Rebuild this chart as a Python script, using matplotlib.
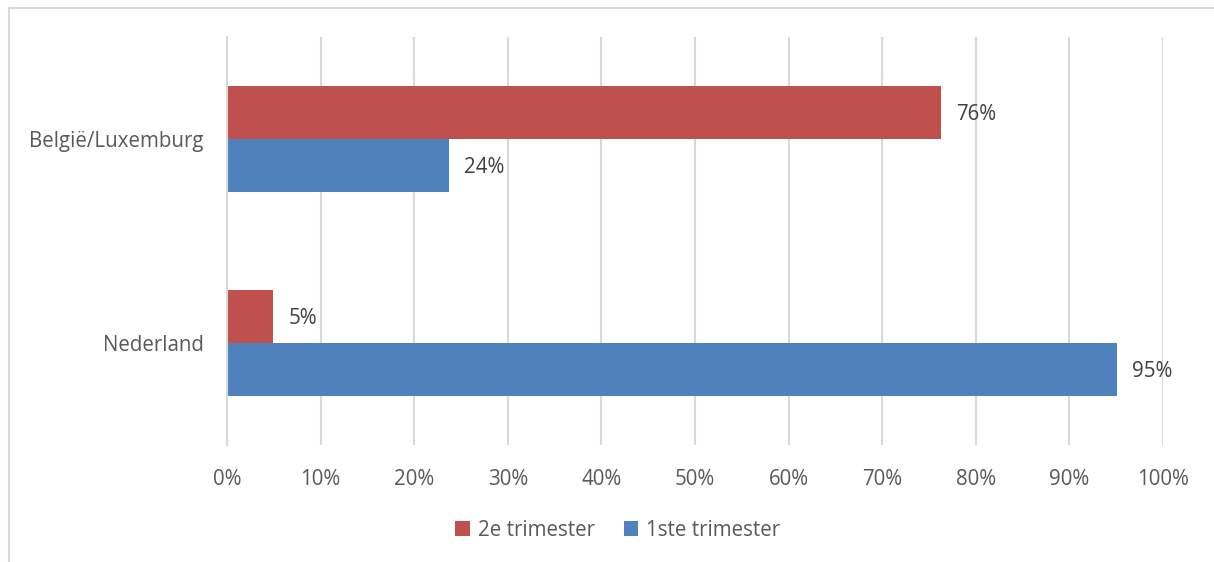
import numpy as np
import matplotlib.pyplot as plt
from matplotlib.lines import Line2D

# data
categories = ["Nederland", "België/Luxemburg"]
series_names = ["2e trimester", "1ste trimester"]
trim2 = [0.049, 0.763]
trim1 = [0.951, 0.237]
colors = ["#C0504D", "#4F81BD"]

plt.rcParams['font.family'] = ['Open Sans', 'DejaVu Sans']
text_col = "#595959"
fs = 14.8

fig = plt.figure(figsize=(12.14, 5.62), dpi=100)
ax = fig.add_axes([227/1214, 117/562, 936/1214, 408/562])

# outer chart border (only left/top visible)
x0, y0 = 9/1214, 1 - 8/562
fig.add_artist(Line2D([x0, x0], [0, y0], transform=fig.transFigure,
                      color="#D9D9D9", linewidth=1.5))
fig.add_artist(Line2D([x0, 1], [y0, y0], transform=fig.transFigure,
                      color="#D9D9D9", linewidth=1.5))

y = np.arange(len(categories))
h = 0.26
b2 = ax.barh(y + h/2, trim2, height=h, color=colors[0], label=series_names[0])
b1 = ax.barh(y - h/2, trim1, height=h, color=colors[1], label=series_names[1])

for bars in (b2, b1):
    for bar in bars:
        w = bar.get_width()
        ax.annotate(f"{w*100:.0f}%", (w, bar.get_y() + bar.get_height()/2),
                    xytext=(11, -1.5), textcoords="offset points",
                    va="center", ha="left", fontsize=fs, color="#404040")

ax.set_xlim(0, 1)
ax.set_ylim(-0.5, 1.5)
ax.set_xticks(np.arange(0, 1.01, 0.1))
ax.set_xticklabels([f"{int(round(t*100))}%" for t in np.arange(0, 1.01, 0.1)])
ax.set_yticks(y)
ax.set_yticklabels(categories)
ax.tick_params(axis="x", length=0, pad=17, labelsize=fs, labelcolor=text_col)
ax.tick_params(axis="y", length=0, pad=17, labelsize=fs, labelcolor=text_col)

ax.grid(axis="x", color="#D9D9D9", linewidth=1.5)
ax.set_axisbelow(True)
for s in ["top", "right", "bottom"]:
    ax.spines[s].set_visible(False)
ax.spines["left"].set_color("#D9D9D9")
ax.spines["left"].set_linewidth(1.5)

leg = fig.legend(loc="center", bbox_to_anchor=(618/1214, 1 - 530/562), ncol=2,
                 frameon=False, fontsize=fs, handlelength=0.7, handleheight=0.7,
                 handletextpad=0.4, columnspacing=1.4)
for t in leg.get_texts():
    t.set_color(text_col)

fig.savefig("out.png", dpi=100)
